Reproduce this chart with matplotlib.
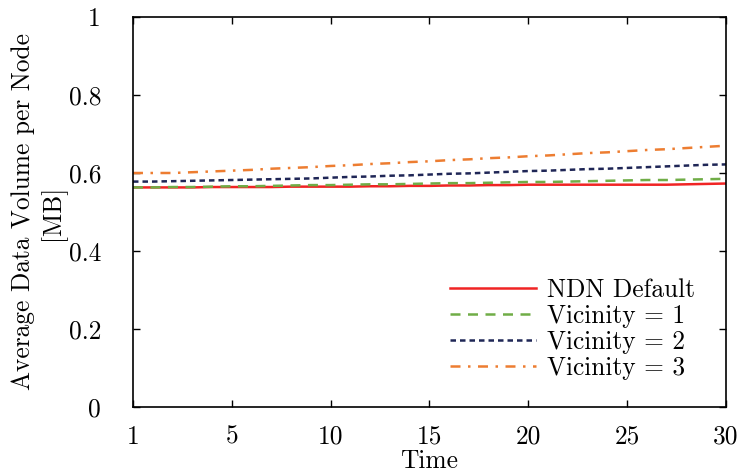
import matplotlib
matplotlib.use("Agg")
import matplotlib.pyplot as plt

plt.rcParams['font.family'] = ['cmr10', 'DejaVu Serif']
plt.rcParams['mathtext.fontset'] = 'cm'
plt.rcParams['axes.formatter.use_mathtext'] = True

# values (one sample per x position, 0..30)
pos = list(range(0, 31))
ndn_default = [0.563, 0.563, 0.563, 0.563, 0.564, 0.564, 0.564, 0.564, 0.565, 0.565, 0.565,
               0.565, 0.566, 0.566, 0.567, 0.567, 0.568, 0.568, 0.569, 0.569, 0.570,
               0.570, 0.570, 0.570, 0.570, 0.570, 0.570, 0.570, 0.571, 0.572, 0.573]
vicinity_1 = [0.563, 0.563, 0.564, 0.564, 0.565, 0.566, 0.566, 0.567, 0.568, 0.569, 0.569,
              0.570, 0.571, 0.571, 0.572, 0.573, 0.574, 0.574, 0.575, 0.576, 0.577,
              0.577, 0.578, 0.579, 0.580, 0.581, 0.582, 0.582, 0.583, 0.584, 0.585]
vicinity_2 = [0.578, 0.578, 0.579, 0.580, 0.581, 0.582, 0.583, 0.584, 0.585, 0.586, 0.588,
              0.590, 0.591, 0.593, 0.594, 0.596, 0.598, 0.599, 0.601, 0.603, 0.605,
              0.606, 0.608, 0.610, 0.611, 0.613, 0.615, 0.617, 0.619, 0.621, 0.622]
vicinity_3 = [0.600, 0.600, 0.600, 0.602, 0.604, 0.606, 0.608, 0.611, 0.613, 0.615, 0.618,
              0.620, 0.623, 0.625, 0.628, 0.630, 0.633, 0.635, 0.638, 0.640, 0.643,
              0.645, 0.648, 0.651, 0.653, 0.656, 0.659, 0.661, 0.664, 0.667, 0.670]
x_tick_pos = [0, 5, 10, 15, 20, 25, 30]
x_tick_labels = ['1', '5', '10', '15', '20', '25', '30']
y_ticks = [0, 0.2, 0.4, 0.6, 0.8, 1]
y_tick_labels = ['0', '0.2', '0.4', '0.6', '0.8', '1']

fs = 18.3

fig = plt.figure(figsize=(7.4, 4.75), dpi=100)
ax = fig.add_axes([0.1797, 0.1432, 0.8013, 0.821])

ax.plot(pos, ndn_default, color='#f02424', lw=1.8, label='NDN Default')
ax.plot(pos, vicinity_1, color='#70ad47', lw=1.8, dashes=(4, 3), label='Vicinity = 1')
ax.plot(pos, vicinity_2, color='#1f2656', lw=1.8, dashes=(2.2, 1.6), label='Vicinity = 2')
ax.plot(pos, vicinity_3, color='#ed7d31', lw=1.8, dashes=(4, 3, 1, 3), label='Vicinity = 3')

ax.set_xlim(0, 30)
ax.set_ylim(0, 1)
ax.set_xticks(x_tick_pos)
ax.set_xticklabels(x_tick_labels)
ax.set_yticks(y_ticks)
ax.set_yticklabels(y_tick_labels)
ax.tick_params(direction='in', length=5, width=1, top=True, right=True, labelsize=fs)
ax.tick_params(axis='x', pad=13)
ax.tick_params(axis='y', pad=23)
for s in ax.spines.values():
    s.set_linewidth(1.2)

ax.set_xlabel('Time', fontsize=fs, labelpad=0)
ax.set_ylabel('Average Data Volume per Node\n[MB]', fontsize=fs, labelpad=2, linespacing=1.2)

ax.legend(loc='lower right', frameon=False, fontsize=fs, handlelength=3.4,
          handletextpad=0.4, labelspacing=0.08, borderaxespad=0.6,
          bbox_to_anchor=(0.99, 0.005))

fig.savefig('out.png', dpi=100)
